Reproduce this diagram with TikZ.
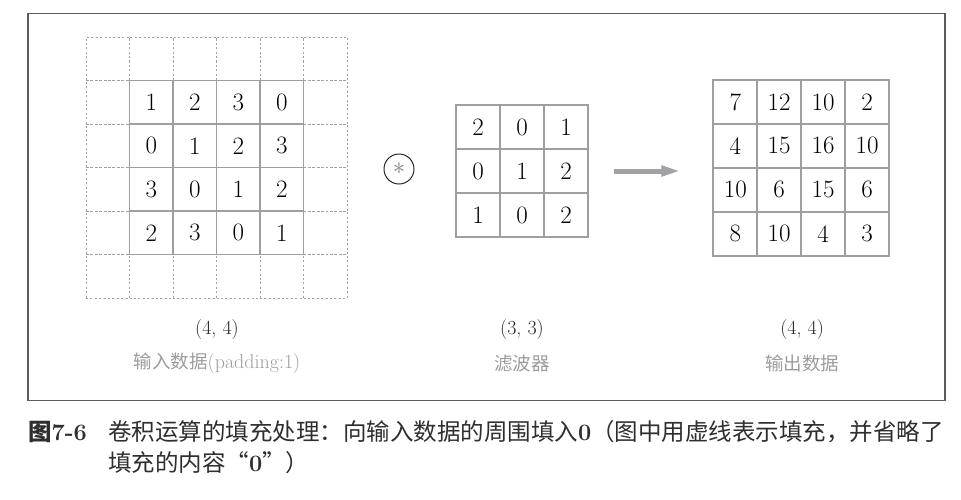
\documentclass[tikz,border=0pt]{standalone}
\usepackage{fontspec}
\newfontfamily\cjk{Noto Sans CJK SC}
\newfontfamily\lmbold{Latin Modern Roman}
\usetikzlibrary{arrows.meta,positioning}
\definecolor{gridgray}{HTML}{9E9EA3}
\definecolor{framegray}{HTML}{5C5C5C}
\definecolor{labelgray}{HTML}{9C9C9C}
\definecolor{arrowgray}{HTML}{A2A2A6}
\definecolor{captext}{HTML}{2E2E2E}
\newcommand{\zh}[1]{{\cjk\fontsize{18.5}{22}\selectfont #1}}
\newcommand{\capdigit}[1]{{\lmbold\bfseries #1}}

\begin{document}
\begin{tikzpicture}[
  x=1pt, y=-1pt,
  cell/.style={draw=gridgray, line width=1.8pt, minimum size=44pt,
    inner sep=0pt, font=\fontsize{25}{28}\selectfont},
  padcell/.style={draw=gridgray, line width=1pt,
    dash pattern=on 2pt off 2.4pt, minimum size=43.5pt, inner sep=0pt},
  shapelabel/.style={font=\fontsize{20}{22}\selectfont, text=black!85},
  datalabel/.style={font=\fontsize{20}{22}\selectfont, text=labelgray},
  arrow/.style={-{Triangle[length=19pt, width=10pt]}, line width=5pt,
    draw=arrowgray},
  capline/.style={anchor=west, inner sep=0pt, text=captext,
    font=\cjk\fontsize{23.5}{26}\selectfont}
]
  \useasboundingbox (0,0) rectangle (961,499);
  % Frame
  \draw[framegray, line width=1.5pt] (28,13.7) rectangle (945,400.7);
  % Input data with padding
  \foreach \r in {0,...,5}
    \foreach \c in {0,...,5}
      \node[padcell] (pad-\r-\c) at (107.75+43.5*\c, 58.75+43.5*\r) {};
  \foreach \row [count=\r] in {{1,2,3,0},{0,1,2,3},{3,0,1,2},{2,3,0,1}}
    \foreach \v [count=\c] in \row
      \node[cell, minimum size=43.5pt] (in-\r-\c) at (pad-\r-\c) {\v};
  % Convolution sign
  \node[circle, draw=black!85, line width=1pt, minimum size=30pt,
    inner sep=0pt, font=\fontsize{27}{28}\selectfont] (conv) at (399,169)
    {\textcolor{gray}{$\ast$}};
  % Filter
  \foreach \row [count=\r] in {{2,0,1},{0,1,2},{1,0,2}}
    \foreach \v [count=\c] in \row
      \node[cell] (flt-\r-\c) at (434+44*\c, 83+44*\r) {\v};
  % Output data
  \foreach \row [count=\r] in {{7,12,10,2},{4,15,16,10},{10,6,15,6},{8,10,4,3}}
    \foreach \v [count=\c] in \row
      \node[cell, minimum size=43.9pt] (out-\r-\c)
        at (691.4+43.9*\c, 58.1+43.9*\r) {\v};
  % Arrow
  \draw[arrow] ([xshift=25pt]flt-2-3.east)
    -- ([xshift=-32pt]out-2-1.west |- flt-2-3.east);
  % Labels
  \node[shapelabel] (in-size) at (pad-5-2.south east |- 0,330) {(4, 4)};
  \node[datalabel] (in-name) at (in-size |- 0,363) {\zh{输入数据}(padding:1)};
  \node[shapelabel] (flt-size) at (flt-3-2 |- 0,330) {(3, 3)};
  \node[datalabel] (flt-name) at (flt-size |- 0,363) {\zh{滤波器}};
  \node[shapelabel] (out-size) at (out-4-2.south east |- 0,330) {(4, 4)};
  \node[datalabel] (out-name) at (out-size |- 0,363) {\zh{输出数据}};
  % Caption
  \node[capline] (cap-num) at (28,432) {\textbf{图}\capdigit{7-6}};
  \node[capline] (cap-1) at (108,432)
    {卷积运算的填充处理：向输入数据的周围填入\capdigit{0}（图中用虚线表示填充，并省略了};
  \node[capline] (cap-2) at (108,463) {填充的内容“\capdigit{0}”）};
\end{tikzpicture}
\end{document}
